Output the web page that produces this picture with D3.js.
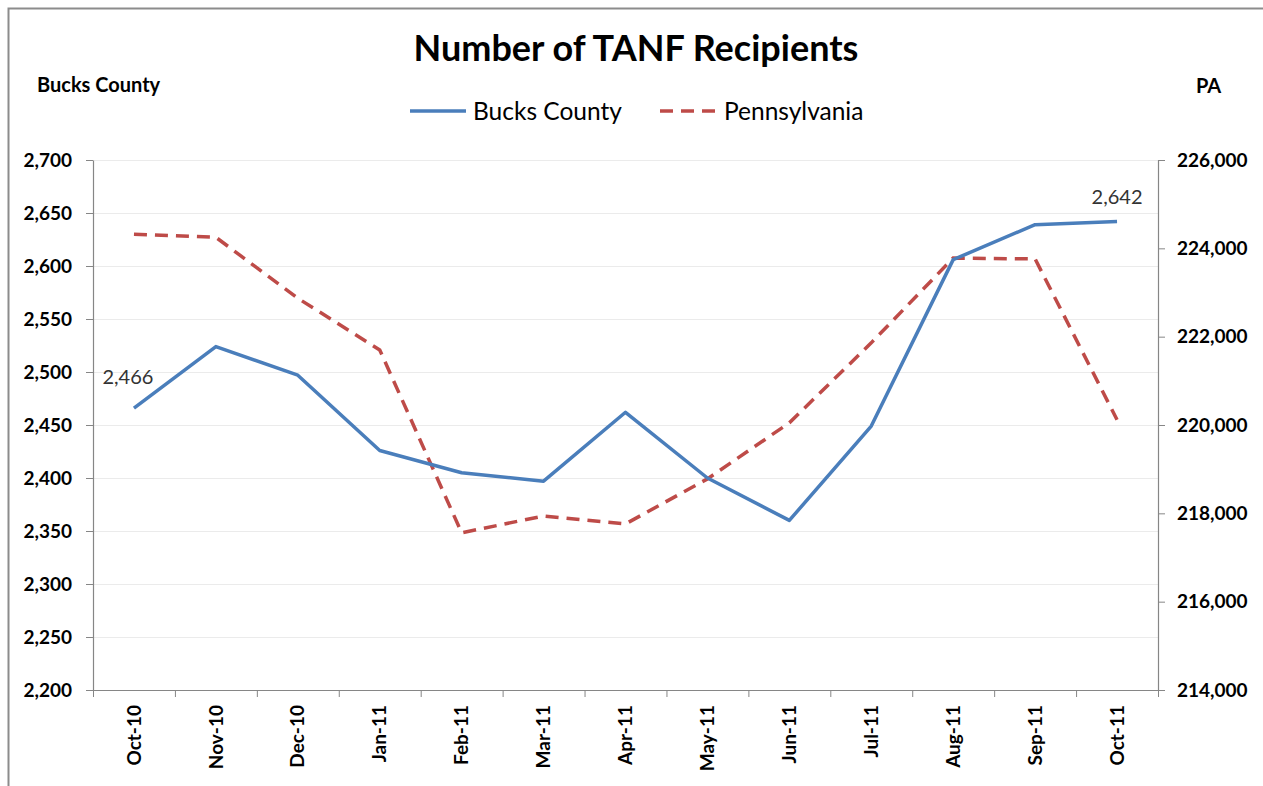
<!DOCTYPE html>
<html>
<head>
<meta charset="utf-8">
<script src="https://cdn.jsdelivr.net/npm/d3@7"></script>
<style>
body{margin:0;background:#fff;}
text{font-family:Lato,"Open Sans",sans-serif;}
</style>
</head>
<body>
<div id="chart-area"></div>
<script>
// data
let months=["Oct-10","Nov-10","Dec-10","Jan-11","Feb-11","Mar-11","Apr-11","May-11","Jun-11","Jul-11","Aug-11","Sep-11","Oct-11"];
let bucks=[2466,2524,2497,2426,2405,2397,2462,2400,2360,2449,2606,2639,2642];
let pa=[224320,224250,222870,221700,217560,217940,217760,218780,220050,221860,223780,223760,220120];
let leftTicks=[2200,2250,2300,2350,2400,2450,2500,2550,2600,2650,2700];
let rightTicks=[214000,216000,218000,220000,222000,224000,226000];

let margin={top:160,left:93,right:105,bottom:96};
let W=1263,H=786;
let width=W-margin.left-margin.right;
let height=H-margin.top-margin.bottom;

let svg=d3.select("#chart-area").append("svg")
	.attr("width",W)
	.attr("height",H);

// outer frame
svg.append("rect")
	.attr("x",8.5).attr("y",8.5)
	.attr("width",1280).attr("height",800)
	.attr("fill","none").attr("stroke","#8c8c8c").attr("stroke-width",2);

let g=svg.append("g")
	.attr("transform","translate("+margin.left+","+margin.top+")");

//------SCALES------
let x=d3.scaleBand().domain(months).range([0,width]);
let yL=d3.scaleLinear().domain([2200,2700]).range([height,0]);
let yR=d3.scaleLinear().domain([214000,226000]).range([height,0]);

//------GRID------
g.selectAll(".grid").data(leftTicks.slice(1)).enter().append("line")
	.attr("x1",0).attr("x2",width)
	.attr("y1",d=>yL(d)+0.5).attr("y2",d=>yL(d)+0.5)
	.attr("stroke","#ebebeb");

//------AXES------
let fmt=d3.format(",");
let yAxisL=g.append("g")
	.call(d3.axisLeft(yL).tickValues(leftTicks).tickFormat(fmt).tickSize(7).tickSizeOuter(0));
let yAxisR=g.append("g")
	.attr("transform","translate("+width+",0)")
	.call(d3.axisRight(yR).tickValues(rightTicks).tickFormat(fmt).tickSize(7).tickSizeOuter(0));
let xAxis=g.append("g")
	.attr("transform","translate(0,"+height+")")
	.call(d3.axisBottom(x).tickSize(0).tickSizeOuter(0));

[yAxisL,yAxisR,xAxis].forEach(a=>{
	a.select(".domain").attr("stroke","#868686").attr("stroke-width",1.2);
	a.selectAll(".tick line").attr("stroke","#868686");
	a.selectAll("text").attr("font-size","19px").attr("font-weight","bold").attr("fill","#000")
		.style("font-family","Lato, sans-serif");
});
yAxisL.selectAll("text").attr("x",-21);
yAxisR.selectAll("text").attr("x",19);

// category ticks at band edges
g.selectAll(".xtick").data(months.concat(["end"])).enter().append("line")
	.attr("x1",(d,i)=>i*x.bandwidth()+0.5).attr("x2",(d,i)=>i*x.bandwidth()+0.5)
	.attr("y1",height).attr("y2",height+7)
	.attr("stroke","#868686");

xAxis.selectAll(".tick text")
	.attr("transform","rotate(-90)")
	.attr("text-anchor","end")
	.attr("x",-15)
	.attr("y",0)
	.attr("dy","0.35em");

//------LINES------
let cx=d=>x(d)+x.bandwidth()/2;
let lineL=d3.line().x((d,i)=>cx(months[i])).y(d=>yL(d));
let lineR=d3.line().x((d,i)=>cx(months[i])).y(d=>yR(d));

g.append("path").datum(pa)
	.attr("d",lineR)
	.attr("fill","none").attr("stroke","#be4b48").attr("stroke-width",3.5)
	.attr("stroke-dasharray","13,8");

g.append("path").datum(bucks)
	.attr("d",lineL)
	.attr("fill","none").attr("stroke","#4a7ebb").attr("stroke-width",3.5)
	.attr("stroke-linejoin","round");

//------DATA LABELS------
g.append("text")
	.attr("x",cx(months[0])-6).attr("y",yL(bucks[0])-24)
	.attr("text-anchor","middle").attr("font-size","20px").attr("fill","#333")
	.text(fmt(bucks[0]));
g.append("text")
	.attr("x",cx(months[12])).attr("y",yL(bucks[12])-17)
	.attr("text-anchor","middle").attr("font-size","20px").attr("fill","#333")
	.text(fmt(bucks[12]));

//------TITLES------
svg.append("text")
	.attr("x",636).attr("y",61)
	.attr("text-anchor","middle")
	.attr("font-size","36px").attr("font-weight","bold")
	.text("Number of TANF Recipients");

svg.append("text")
	.attr("x",37).attr("y",92)
	.attr("font-size","20px").attr("font-weight","bold")
	.text("Bucks County");
svg.append("text")
	.attr("x",1196).attr("y",93)
	.attr("font-size","20px").attr("font-weight","bold")
	.text("PA");

//------LEGEND------
let legend=svg.append("g").attr("transform","translate(410,111)");
legend.append("line").attr("x1",0).attr("x2",56).attr("y1",0).attr("y2",0)
	.attr("stroke","#4a7ebb").attr("stroke-width",3.5);
legend.append("text").attr("x",63).attr("y",9).attr("font-size","24.5px").text("Bucks County");
legend.append("line").attr("x1",250).attr("x2",306).attr("y1",0).attr("y2",0)
	.attr("stroke","#be4b48").attr("stroke-width",3.5).attr("stroke-dasharray","13,8");
legend.append("text").attr("x",314).attr("y",9).attr("font-size","24.5px").text("Pennsylvania");
</script>
</body>
</html>
